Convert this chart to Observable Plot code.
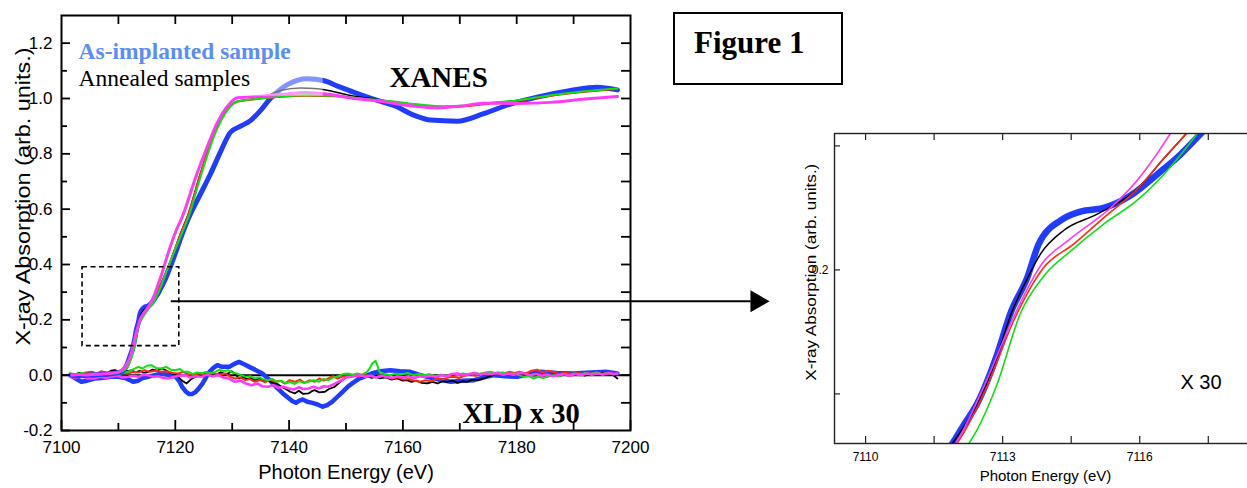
<!DOCTYPE html>
<html><head><meta charset="utf-8">
<script src="https://cdn.jsdelivr.net/npm/d3@7"></script>
<script src="https://cdn.jsdelivr.net/npm/@observablehq/plot@0.6"></script>
<style>
html,body{margin:0;padding:0;background:#fff;overflow:hidden}
#wrap{position:relative;width:1247px;height:488px;overflow:hidden;background:#fff}
#wrap svg{position:absolute;top:0}
#figbox{position:absolute;left:673px;top:12px;width:166px;height:69px;border:2px solid #000}
#figtxt{position:absolute;left:694px;top:27px;font:bold 31px/31px "Liberation Serif","Times New Roman",serif;white-space:nowrap;color:#000}
</style>
</head><body>
<div id="wrap"><div id="figbox"></div><div id="figtxt">Figure 1</div></div>
<script>
// ---------------- DATA (energy eV, value) ----------------
const blueXanes = [[7101.8,0.0],[7103,-0.002],[7104.5,0.0],[7106,0.001],[7107.5,0.003],[7109,0.006],[7110,0.009],[7110.8,0.016],[7111.4,0.033],[7111.9,0.06],[7112.15,0.075],[7112.44,0.092],[7112.88,0.132],[7113.17,0.165],[7113.54,0.194],[7113.79,0.221],[7114.27,0.24],[7114.7,0.247],[7115.21,0.25],[7115.8,0.26],[7116.38,0.277],[7116.89,0.293],[7117.34,0.31],[7118.2,0.345],[7119,0.385],[7120,0.44],[7121.2,0.51],[7122.4,0.571],[7124.3,0.65],[7126.2,0.728],[7128,0.81],[7129.7,0.878],[7131.5,0.9],[7133.2,0.92],[7135,0.957],[7136.7,1.0],[7138.3,1.03],[7139.7,1.05],[7141.5,1.066],[7143.2,1.071],[7146,1.065],[7148.5,1.045],[7151.3,1.023],[7155.5,0.993],[7158.4,0.975],[7161.9,0.94],[7164.9,0.922],[7169.5,0.918],[7174.2,0.945],[7178.9,0.98],[7183.6,1.005],[7189.5,1.029],[7194.1,1.041],[7197.7,1.031]];
const blackXanes = [[7101.8,0.002],[7103,0.0],[7104.5,0.003],[7106,0.004],[7107.5,0.006],[7109,0.009],[7110,0.013],[7110.8,0.022],[7111.4,0.038],[7111.9,0.06],[7112.44,0.092],[7112.88,0.13],[7113.17,0.163],[7113.54,0.193],[7113.83,0.213],[7114.34,0.232],[7115.07,0.245],[7115.94,0.265],[7116.53,0.29],[7117.02,0.31],[7118,0.355],[7119,0.405],[7120,0.46],[7121,0.515],[7122.1,0.571],[7124.4,0.728],[7126.8,0.873],[7128.5,0.945],[7130.9,0.99],[7133.8,0.999],[7136.2,1.011],[7138.5,1.029],[7142,1.038],[7145,1.035],[7150.8,1.011],[7156,0.995],[7161,0.98],[7166,0.97],[7170.7,0.973],[7174.5,0.982],[7178.9,0.99],[7186,1.011],[7192,1.025],[7197.7,1.033]];
const redXanes = [[7101.8,0.0],[7103,0.003],[7104.5,0.001],[7106,0.004],[7107.5,0.005],[7109,0.008],[7110,0.012],[7110.8,0.02],[7111.4,0.036],[7112,0.06],[7112.66,0.106],[7113.24,0.159],[7113.9,0.202],[7114.56,0.221],[7115.21,0.242],[7115.94,0.265],[7116.53,0.29],[7117.02,0.31],[7118,0.355],[7119,0.405],[7120,0.46],[7121,0.515],[7122.1,0.571],[7124.4,0.728],[7126.8,0.873],[7128.5,0.943],[7130.9,0.988],[7134,0.997],[7138,1.005],[7143,1.01],[7148,1.008],[7153,0.999],[7158,0.988],[7163,0.976],[7167,0.969],[7171,0.972],[7175,0.981],[7180,0.991],[7186,1.01],[7192,1.024],[7197.7,1.034]];
const greenXanes = [[7101.8,0.003],[7103,0.001],[7104.5,0.002],[7106,0.003],[7107.5,0.004],[7109,0.006],[7110,0.009],[7110.8,0.015],[7111.6,0.03],[7112.26,0.06],[7112.44,0.071],[7112.88,0.108],[7113.39,0.165],[7113.9,0.195],[7114.48,0.215],[7115.21,0.237],[7115.94,0.256],[7116.6,0.28],[7117.26,0.31],[7118.75,0.39],[7120,0.455],[7121.2,0.515],[7122.3,0.571],[7124.6,0.728],[7127,0.873],[7128.7,0.943],[7131,0.99],[7134,0.998],[7138,1.006],[7143,1.012],[7148,1.01],[7153,1.0],[7158,0.99],[7163,0.978],[7167,0.972],[7171,0.975],[7175,0.984],[7180,0.993],[7186,1.012],[7192,1.026],[7197.7,1.036]];
const magentaXanes = [[7101.8,0.0],[7103,0.002],[7104.5,0.001],[7106,0.003],[7107.5,0.005],[7109,0.008],[7110,0.012],[7110.8,0.021],[7111.4,0.038],[7111.97,0.06],[7112.59,0.106],[7113.24,0.162],[7113.86,0.205],[7114.48,0.225],[7115.36,0.25],[7115.94,0.272],[7116.31,0.29],[7116.67,0.31],[7117.6,0.365],[7118.9,0.451],[7120,0.515],[7121.2,0.571],[7123.8,0.728],[7125.7,0.83],[7127.4,0.914],[7129,0.968],[7130.9,1.003],[7133,1.005],[7136,1.01],[7139,1.015],[7143,1.022],[7147,1.015],[7150.8,1.002],[7156,0.99],[7161,0.975],[7166,0.966],[7170,0.972],[7174.2,0.983],[7180,0.982],[7186,0.986],[7192,0.998],[7197.7,1.007]];

const blueXld = [[7101.5,0],[7102.5,-0.012],[7103.5,-0.024],[7104.5,-0.02],[7105.8,-0.012],[7107,-0.01],[7108.8,-0.006],[7110,-0.006],[7111.2,-0.01],[7112.6,-0.024],[7113.5,-0.02],[7114.3,-0.01],[7115.2,-0.006],[7116.4,0],[7117.6,0.006],[7119,0],[7120.1,-0.006],[7120.7,-0.022],[7121.2,-0.042],[7121.8,-0.058],[7122.4,-0.068],[7123,-0.068],[7123.6,-0.06],[7124.2,-0.046],[7124.8,-0.03],[7125.4,-0.008],[7126,0.012],[7126.7,0.026],[7127.4,0.036],[7128.2,0.03],[7129.5,0.03],[7130.3,0.04],[7131.2,0.048],[7132,0.04],[7133,0.03],[7134,0.02],[7135.3,0.006],[7136.5,-0.016],[7137.7,-0.042],[7138.9,-0.066],[7140,-0.084],[7140.6,-0.094],[7141.2,-0.1],[7141.8,-0.092],[7142.4,-0.088],[7143.2,-0.096],[7144.1,-0.1],[7145,-0.106],[7145.9,-0.114],[7146.7,-0.108],[7147.6,-0.096],[7148.5,-0.078],[7149.4,-0.06],[7150.3,-0.042],[7151.2,-0.028],[7152.2,-0.014],[7153.1,-0.006],[7154.5,0.006],[7156,0.014],[7157.8,0.018],[7159.5,0.014],[7161.3,0.012],[7162.8,0.002],[7164.3,-0.006],[7166.3,-0.016],[7168.4,-0.024],[7170.5,-0.02],[7172.5,-0.018],[7174.3,-0.008],[7176,0],[7178,-0.004],[7180.1,-0.006],[7182.2,0.004],[7184.2,0.012],[7187,0.008],[7190,0.006],[7193,0.01],[7195.9,0.012],[7197.7,0.006]];
const blackXld = [[7101.5,0.006],[7102.3,0.002],[7103.1,0.008],[7104,0.004],[7104.7,0.006],[7105.5,0.01],[7106.3,0.006],[7107.1,0.012],[7108,0.008],[7108.7,0.016],[7109.4,0.018],[7110.2,0.012],[7111,0.02],[7111.7,0.014],[7112.3,0.018],[7113,0.01],[7113.8,0.016],[7114.5,0.008],[7115.2,0.012],[7116,0.02],[7116.8,0.016],[7117.6,0.024],[7118.3,0.018],[7119,0.01],[7119.8,0.004],[7120.5,-0.006],[7121.2,-0.02],[7122,-0.03],[7122.7,-0.016],[7123.5,-0.006],[7124.3,-0.002],[7125,0.006],[7125.7,0.002],[7126.4,0.006],[7127.2,0.002],[7128,0.01],[7128.7,0.004],[7129.3,0.006],[7129.9,0.014],[7130.6,0.002],[7131.2,-0.012],[7131.9,-0.006],[7132.6,-0.014],[7133.3,-0.01],[7134,-0.018],[7134.7,-0.012],[7135.5,-0.02],[7136.3,-0.018],[7137,-0.026],[7137.8,-0.03],[7138.7,-0.042],[7139.4,-0.05],[7140.2,-0.06],[7141,-0.066],[7141.7,-0.056],[7142.5,-0.068],[7143.4,-0.066],[7144,-0.058],[7144.5,-0.054],[7145.3,-0.062],[7146.3,-0.06],[7147,-0.05],[7148,-0.042],[7148.8,-0.028],[7149.6,-0.014],[7150.4,0],[7151.2,-0.004],[7152,0.002],[7152.8,-0.006],[7153.6,-0.002],[7154.5,-0.01],[7155.3,-0.006],[7156,-0.012],[7157,-0.008],[7158,-0.016],[7159,-0.012],[7160,-0.02],[7160.7,-0.018],[7161.5,-0.024],[7162.4,-0.02],[7163.3,-0.028],[7164.3,-0.03],[7165.2,-0.024],[7166.1,-0.03],[7167,-0.022],[7167.8,-0.024],[7168.7,-0.02],[7169.6,-0.028],[7170.5,-0.022],[7171.3,-0.024],[7172.2,-0.016],[7173.2,-0.018],[7174.2,-0.012],[7175.3,-0.004],[7176.6,0.006],[7177.5,0.002],[7178.5,0.008],[7179.3,0.004],[7180.1,0.006],[7181,0],[7182,0.004],[7183,-0.002],[7184.2,0],[7185.2,-0.006],[7186.3,0.002],[7187.3,-0.004],[7188.3,0.002],[7189.2,-0.002],[7190,0],[7191,0.004],[7192,-0.002],[7193,0.006],[7194,0.002],[7195,0.008],[7195.9,0.006],[7196.8,0.002],[7197.7,-0.012]];
const redXld = [[7101.5,0],[7102.4,0.004],[7103.3,0.002],[7104.3,0.01],[7105.3,0.012],[7106.2,0.006],[7107,0.014],[7108,0.008],[7108.8,0.012],[7109.7,0.006],[7110.6,0.01],[7111.7,0.006],[7112.6,0.012],[7113.6,0.01],[7114.6,0.018],[7115.5,0.012],[7116.5,0.016],[7117.6,0.012],[7118.5,0.014],[7119.5,0.008],[7120.5,0.006],[7121.4,0.012],[7122.4,0.002],[7123.4,0],[7124.3,0.008],[7125.2,0.002],[7126.1,0.01],[7127,0.006],[7127.9,0.002],[7128.8,0.006],[7129.7,-0.006],[7130.5,-0.012],[7131.4,-0.008],[7132.3,-0.018],[7133.1,-0.014],[7134,-0.024],[7134.9,-0.018],[7135.8,-0.026],[7136.6,-0.016],[7137.5,-0.024],[7138.4,-0.02],[7139.2,-0.03],[7140.1,-0.018],[7141,-0.024],[7141.9,-0.016],[7142.7,-0.028],[7143.6,-0.018],[7144.5,-0.024],[7145.3,-0.012],[7146.1,-0.02],[7146.9,-0.012],[7147.7,-0.004],[7148.5,-0.012],[7149.3,-0.006],[7150.2,-0.002],[7151.2,0],[7152.2,-0.006],[7153.2,0.002],[7154.2,-0.004],[7155.2,-0.008],[7156.2,-0.002],[7157.1,-0.006],[7158.1,-0.012],[7159.1,-0.008],[7160.1,-0.016],[7161.1,-0.014],[7162,-0.02],[7163,-0.024],[7164,-0.018],[7165,-0.022],[7166,-0.012],[7167,-0.016],[7168,-0.008],[7168.9,-0.006],[7169.9,-0.01],[7170.8,-0.002],[7171.8,0.002],[7172.8,-0.002],[7173.8,0.006],[7174.7,0.006],[7175.7,0.002],[7176.7,0.01],[7177.7,0.006],[7178.7,0.012],[7179.6,0.008],[7180.6,0.012],[7181.6,0.006],[7182.6,0.016],[7183.6,0.02],[7184.5,0.01],[7185.5,0.016],[7186.5,0.012],[7187.5,0.004],[7188.6,0.01],[7189.7,0.004],[7190.8,0.008],[7191.8,0.002],[7192.9,0.006],[7194,0.01],[7195,0.004],[7196,0.008],[7197,0.004],[7197.7,0.006]];
const greenXld = [[7101.5,0.006],[7102.5,0.002],[7103.5,0.008],[7104.6,0.004],[7105.8,0.006],[7106.8,0.002],[7107.8,0.006],[7108.8,0],[7109.8,0.004],[7110.8,0.008],[7111.7,0.012],[7112.5,0.02],[7113.5,0.03],[7114.2,0.024],[7115,0.034],[7115.8,0.036],[7116.6,0.026],[7117.6,0.024],[7118.4,0.03],[7119.2,0.02],[7120,0.018],[7120.8,0.022],[7121.5,0.012],[7122.3,0.012],[7123.1,0.004],[7123.9,0.01],[7124.6,0.006],[7125.4,0.012],[7126.2,0.006],[7127,0.012],[7127.8,0.02],[7128.5,0.014],[7129.3,0.018],[7130,0.01],[7130.8,0.006],[7131.6,0],[7132.4,-0.006],[7133.2,-0.004],[7134,-0.012],[7134.8,-0.008],[7135.6,-0.016],[7136.3,-0.018],[7137.1,-0.014],[7137.9,-0.024],[7138.7,-0.02],[7139.4,-0.03],[7140.2,-0.024],[7141,-0.032],[7141.8,-0.022],[7142.6,-0.028],[7143.4,-0.024],[7144.3,-0.018],[7145.2,-0.024],[7146,-0.014],[7146.9,-0.018],[7147.8,-0.008],[7148.6,-0.004],[7149.5,0.004],[7150.4,0.006],[7151.2,0.002],[7152,0.006],[7152.8,0.002],[7153.7,0.012],[7154.2,0.026],[7154.6,0.042],[7155.2,0.052],[7155.6,0.03],[7155.9,0.012],[7156.8,0.004],[7157.8,0],[7158.8,0.006],[7159.8,0.002],[7160.8,0.008],[7161.8,0],[7162.8,0.004],[7163.7,0],[7164.7,0.004],[7165.7,-0.004],[7166.7,0.002],[7167.7,-0.002],[7168.6,0.004],[7169.6,0],[7170.6,0.006],[7171.6,0.002],[7172.6,0.008],[7173.6,0.004],[7174.5,0.01],[7175.5,0.012],[7176.5,0.006],[7177.5,0.01],[7178.5,0.004],[7179.5,0.006],[7180.4,0],[7181.3,-0.006],[7182.2,-0.004],[7183,-0.012],[7183.8,-0.006],[7184.6,-0.01],[7185.4,-0.006],[7186.4,0],[7187.4,-0.004],[7188.4,0.004],[7189.2,0],[7190,0.006],[7191,0.002],[7192,0.008],[7193,0.004],[7194,0.01],[7195,0.004],[7196,0.008],[7197,0.002],[7197.7,0.006]];
const magentaXld = [[7101.5,-0.006],[7102.5,-0.01],[7103.5,-0.004],[7104.6,-0.012],[7105.8,-0.012],[7106.8,-0.006],[7107.8,-0.01],[7108.8,-0.006],[7109.8,-0.002],[7110.8,-0.008],[7111.7,-0.006],[7112.6,-0.002],[7113.5,-0.006],[7114.4,0.002],[7115.2,0],[7116.1,-0.006],[7117,-0.004],[7117.9,-0.01],[7118.8,-0.012],[7119.8,-0.006],[7120.7,-0.002],[7121.7,0],[7122.6,-0.008],[7123.6,-0.004],[7124.6,-0.006],[7125.5,0.002],[7126.5,-0.004],[7127.5,0],[7128.4,-0.008],[7129.4,-0.012],[7130.5,-0.024],[7131.4,-0.02],[7132.4,-0.03],[7133.4,-0.036],[7134.4,-0.03],[7135.3,-0.04],[7136.3,-0.042],[7137.2,-0.036],[7138.1,-0.046],[7139,-0.042],[7139.9,-0.048],[7140.8,-0.052],[7141.7,-0.044],[7142.5,-0.05],[7143.4,-0.048],[7144.3,-0.042],[7145.2,-0.048],[7146.1,-0.04],[7146.9,-0.042],[7147.7,-0.034],[7148.5,-0.026],[7149.3,-0.018],[7150.1,-0.008],[7150.9,-0.006],[7151.7,-0.002],[7152.5,0],[7153.4,-0.006],[7154.4,-0.002],[7155.3,-0.008],[7156.2,-0.002],[7157.1,-0.006],[7158,-0.01],[7159,-0.004],[7160,-0.008],[7161,-0.004],[7162,-0.01],[7162.9,-0.004],[7163.8,-0.006],[7164.8,-0.002],[7165.8,-0.006],[7166.8,0],[7167.7,-0.004],[7168.6,0.004],[7169.6,0.006],[7170.6,0],[7171.6,0.004],[7172.6,0.008],[7173.6,0.002],[7174.5,0.006],[7175.5,0.004],[7176.5,0.008],[7177.5,0.002],[7178.5,0.006],[7179.5,0.002],[7180.4,0.008],[7181.4,0.006],[7182.4,0],[7183.4,0.004],[7184.4,-0.002],[7185.4,0.002],[7186.3,-0.004],[7187.3,0],[7188.3,0.004],[7189.3,-0.002],[7190.3,0.004],[7191.3,0],[7192.3,0.006],[7193.2,0.002],[7194.2,0.006],[7195.2,0.002],[7196.2,0.008],[7197,0.004],[7197.7,0.006]];

// ticks & labels
const xTickLabels = [7100, 7120, 7140, 7160, 7180, 7200];
const xMinorTicks = [7110, 7130, 7150, 7170, 7190];
const xTopTicks = [7110, 7120, 7130, 7140, 7150, 7160, 7170, 7180, 7190];
const yTickLabels = [-0.2, 0.0, 0.2, 0.4, 0.6, 0.8, 1.0, 1.2];
const yMinorTicks = [-0.1, 0.1, 0.3, 0.5, 0.7, 0.9, 1.1];
const yRightTicks = [-0.1, 0.0, 0.1, 0.2, 0.3, 0.4, 0.5, 0.6, 0.7, 0.8, 0.9, 1.0, 1.1, 1.2];
const insetXTickLabels = [7110, 7113, 7116];
const insetXTicks = [7110, 7111.5, 7113, 7114.5, 7116, 7117.5];
const insetYTickLabels = [0.2];
const insetYTicks = [0.1, 0.2, 0.3];

// texts
const xLabel = "Photon Energy (eV)";
const yLabel = "X-ray Absorption (arb. units.)";
const legendAsImplanted = "As-implanted sample";
const legendAnnealed = "Annealed samples";
const xanesLabel = "XANES";
const xldLabel = "XLD x 30";
const insetNote = "X 30";

// annotation anchors (data coordinates)
const zoomBox = [{x1: 7103.7, x2: 7120.7, y1: 0.105, y2: 0.39}];
const fadeBox = [{x1: 7131, x2: 7146, y1: 1.008, y2: 1.12}];
const arrowLine = [{x1: 7119.2, y1: 0.267, x2: 7221.1, y2: 0.267}];
const arrowHead = [{x: 7222.2, y: 0.267}];

// ---------------- STYLES ----------------
const series = [
  {name: "as-implanted", xanes: blueXanes, xld: blueXld, color: "#1f3cff", w: 5, wx: 4.5, wi: 6.5},
  {name: "annealed 1", xanes: blackXanes, xld: blackXld, color: "#000000", w: 1.5, wx: 1.8, wi: 1.5},
  {name: "annealed 2", xanes: redXanes, xld: redXld, color: "#ff2a10", w: 1.8, wx: 2, wi: 1.6},
  {name: "annealed 3", xanes: greenXanes, xld: greenXld, color: "#10e010", w: 2, wx: 2, wi: 1.6},
  {name: "annealed 4", xanes: magentaXanes, xld: magentaXld, color: "#ff3cf5", w: 3, wx: 2.6, wi: 1.6}
];
const toRows = arr => arr.map(([E, v]) => ({E, v}));

const MW = 1247, MH = 488, ML = 61, MR = 617, MT = 15, MB = 58;
const FW = MW - ML - MR, FH = MH - MT - MB;
const sans = "'Liberation Sans', Arial, sans-serif";
const serif = "'Liberation Serif', 'Times New Roman', serif";

const mainMarks = [Plot.ruleY([0], {stroke: "#000", strokeWidth: 2})];
for (const s of series) mainMarks.push(Plot.line(toRows(s.xld), {x: "E", y: "v", stroke: s.color, strokeWidth: s.wx, strokeLinejoin: "round"}));
for (const s of series) mainMarks.push(Plot.line(toRows(s.xanes), {x: "E", y: "v", stroke: s.color, strokeWidth: s.w, curve: "monotone-x", strokeLinejoin: "round"}));
mainMarks.push(
  Plot.rect(fadeBox, {x1: "x1", x2: "x2", y1: "y1", y2: "y2", fill: "white", fillOpacity: 0.45}),
  Plot.rect(zoomBox, {x1: "x1", x2: "x2", y1: "y1", y2: "y2", fill: "none", stroke: "#000", strokeWidth: 1.6, strokeDasharray: "5,3.5"}),
  Plot.link(arrowLine, {x1: "x1", y1: "y1", x2: "x2", y2: "y2", stroke: "#000", strokeWidth: 2}),
  Plot.dot(arrowHead, {x: "x", y: "y", symbol: "triangle", r: 8.2, rotate: 90, fill: "#000", stroke: "none"}),
  Plot.frame({stroke: "#000", strokeWidth: 2}),
  Plot.ruleX(xTickLabels, {insetTop: FH - 10, stroke: "#000", strokeWidth: 1.8}),
  Plot.ruleX(xMinorTicks, {insetTop: FH - 7, stroke: "#000", strokeWidth: 1.8}),
  Plot.ruleX(xTopTicks, {insetBottom: FH - 9, stroke: "#000", strokeWidth: 1.8}),
  Plot.ruleY(yTickLabels, {insetRight: FW - 9, stroke: "#000", strokeWidth: 1.8}),
  Plot.ruleY(yMinorTicks, {insetRight: FW - 6, stroke: "#000", strokeWidth: 1.8}),
  Plot.ruleY(yRightTicks, {insetLeft: FW - 9, stroke: "#000", strokeWidth: 1.8}),
  Plot.axisX({ticks: xTickLabels, tickSize: 0, tickPadding: 10, tickFormat: d => String(d), label: null, fontSize: 17, fill: "#000"}),
  Plot.axisY({ticks: yTickLabels, tickSize: 0, tickPadding: 9, tickFormat: d => d.toFixed(1), label: null, fontSize: 17, fill: "#000"}),
  Plot.text([xLabel], {frameAnchor: "bottom", dy: 48, fontSize: 20, fill: "#000"}),
  Plot.text([yLabel], {frameAnchor: "left", rotate: -90, textAnchor: "start", dx: -38, dy: 122.5, fontSize: 20, fill: "#000"}),
  Plot.text([legendAsImplanted], {x: 7102.99, y: 1.1444, textAnchor: "start", lineAnchor: "bottom", fontFamily: serif, fontWeight: "bold", fontSize: 23.5, fill: "#5b8ef5"}),
  Plot.text([legendAnnealed], {x: 7102.99, y: 1.045, textAnchor: "start", lineAnchor: "bottom", fontFamily: serif, fontSize: 23.5, fill: "#000"}),
  Plot.text([xanesLabel], {x: 7157.64, y: 1.0433, textAnchor: "start", lineAnchor: "bottom", fontFamily: serif, fontWeight: "bold", fontSize: 29, fill: "#000"}),
  Plot.text([xldLabel], {x: 7170.47, y: -0.1733, textAnchor: "start", lineAnchor: "bottom", fontFamily: serif, fontWeight: "bold", fontSize: 28.5, fill: "#000"})
);

const main = Plot.plot({
  width: MW, height: MH, marginLeft: ML, marginRight: MR, marginTop: MT, marginBottom: MB,
  style: {fontFamily: sans, fontSize: "17px", background: "transparent", overflow: "visible", color: "#000"},
  x: {type: "linear", domain: [7100, 7200]},
  y: {type: "linear", domain: [-0.2, 1.3]},
  marks: mainMarks
});
d3.select(main).selectAll("text").filter(function () { return this.textContent === yLabel; })
  .attr("textLength", 298).attr("lengthAdjust", "spacingAndGlyphs");
main.style.left = "0px";

// ---------------- INSET ----------------
const IW = 488, IH = 488, IL = 74, IR = 0, IT = 133, IB = 45;
const IFW = IW - IL - IR, IFH = IH - IT - IB;
const insetMarks = [];
for (const s of series) insetMarks.push(Plot.line(toRows(s.xanes), {x: "E", y: "v", stroke: s.color, strokeWidth: s.wi, curve: "monotone-x", clip: true, strokeLinejoin: "round"}));
insetMarks.push(
  Plot.frame({stroke: "#222", strokeWidth: 1.4}),
  Plot.ruleX(insetXTicks, {insetTop: IFH - 7, stroke: "#222", strokeWidth: 1.2}),
  Plot.ruleX(insetXTicks, {insetBottom: IFH - 7, stroke: "#222", strokeWidth: 1.2}),
  Plot.ruleY(insetYTicks, {insetRight: IFW - 6, stroke: "#222", strokeWidth: 1.2}),
  Plot.axisX({ticks: insetXTickLabels, tickSize: 0, tickPadding: 9, tickFormat: d => String(d), label: null, fontSize: 12, fill: "#000"}),
  Plot.axisY({ticks: insetYTickLabels, tickSize: 0, tickPadding: 6, tickFormat: d => d.toFixed(1), label: null, fontSize: 12, fill: "#000"}),
  Plot.text([xLabel], {frameAnchor: "bottom", dy: 37, dx: 4, fontSize: 15, fill: "#000"}),
  Plot.text([yLabel], {frameAnchor: "left", rotate: -90, textAnchor: "start", dx: -23.3, dy: 92.2, fontSize: 15, fill: "#000"}),
  Plot.text([insetNote], {x: 7116.89, y: 0.1037, textAnchor: "start", lineAnchor: "bottom", fontSize: 20, fill: "#000"})
);
const inset = Plot.plot({
  width: IW, height: IH, marginLeft: IL, marginRight: IR, marginTop: IT, marginBottom: IB,
  style: {fontFamily: sans, fontSize: "12px", background: "transparent", overflow: "visible", color: "#000"},
  x: {type: "linear", domain: [7109.32, 7118.38]},
  y: {type: "linear", domain: [0.06, 0.31]},
  marks: insetMarks
});
d3.select(inset).selectAll("text").filter(function () { return this.textContent === yLabel; })
  .attr("textLength", 217).attr("lengthAdjust", "spacingAndGlyphs");
inset.style.left = "760px";

const wrap = document.getElementById("wrap");
wrap.insertBefore(main, wrap.firstChild);
wrap.insertBefore(inset, main.nextSibling);
</script>
</body></html>
